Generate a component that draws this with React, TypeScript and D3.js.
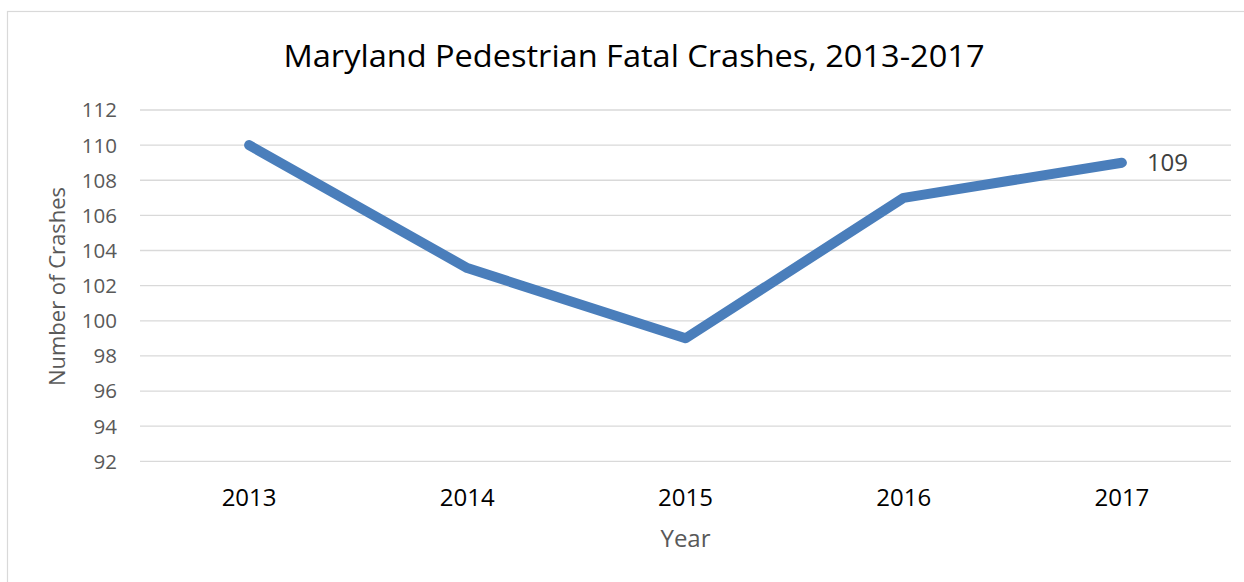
import React from "react";
import * as d3 from "d3";

const years = ["2013", "2014", "2015", "2016", "2017"];
const crashes = [110, 103, 99, 107, 109];
const yTicks = [92, 94, 96, 98, 100, 102, 104, 106, 108, 110, 112];

const W = 1244;
const H = 582;
const FONT = "'Open Sans', sans-serif";

export default function App() {
  const x = d3.scalePoint<string>().domain(years).range([140, 1231]).padding(0.5);
  const y = d3.scaleLinear().domain([92, 112]).range([461.3, 110]);
  const line = d3
    .line<number>()
    .x((_, i) => x(years[i]) as number)
    .y((d) => y(d));
  const lastIdx = crashes.length - 1;
  return (
    <svg
      width={W}
      height={H}
      style={{ position: "absolute", left: 0, top: 0, background: "#fff" }}
      fontFamily={FONT}
    >
      <rect x={7.5} y={11.5} width={1300} height={700} fill="#fff" stroke="#d9d9d9" strokeWidth={1.2} />
      <text x={634} y={66.5} textAnchor="middle" fontSize={31} fill="#000" textLength={701} lengthAdjust="spacingAndGlyphs">
        Maryland Pedestrian Fatal Crashes, 2013-2017
      </text>
      {yTicks.map((t) => (
        <g key={t}>
          <line x1={140} x2={1231} y1={y(t)} y2={y(t)} stroke="#d9d9d9" strokeWidth={1.3} />
          <text x={117} y={y(t)} dy="0.36em" textAnchor="end" fontSize={20.5} fill="#595959">
            {t}
          </text>
        </g>
      ))}
      {years.map((yr) => (
        <text key={yr} x={x(yr)} y={506} textAnchor="middle" fontSize={24} fill="#000">
          {yr}
        </text>
      ))}
      <text x={685.5} y={546.5} textAnchor="middle" fontSize={24} fill="#595959">
        Year
      </text>
      <text
        transform={`translate(64.5,286.5) rotate(-90)`}
        textAnchor="middle"
        fontSize={22}
        fill="#595959"
      >
        Number of Crashes
      </text>
      <path
        d={line(crashes) || ""}
        fill="none"
        stroke="#4a7ebb"
        strokeWidth={10}
        strokeLinecap="round"
        strokeLinejoin="round"
      />
      <text
        x={(x(years[lastIdx]) as number) + 25}
        y={y(crashes[lastIdx]) + 8.5}
        fontSize={24}
        fill="#404040"
      >
        {crashes[lastIdx]}
      </text>
    </svg>
  );
}
